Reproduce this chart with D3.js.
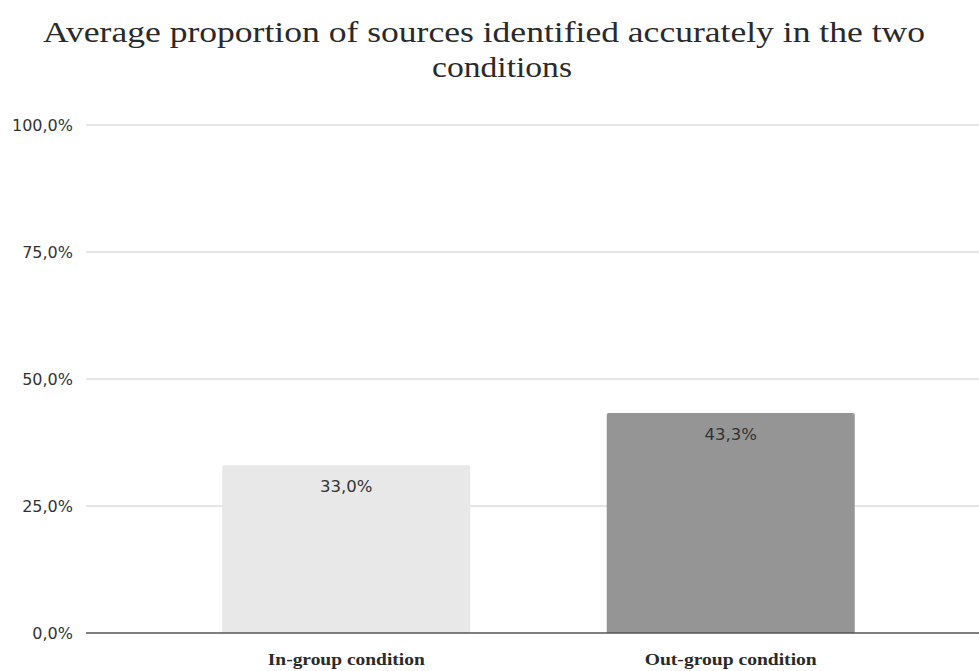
<!DOCTYPE html>
<html>
<head>
<meta charset="utf-8">
<script src="https://cdn.jsdelivr.net/npm/d3@7"></script>
<style>
  body { margin: 0; background: #fff; }
</style>
</head>
<body>
<div id="viz"></div>
<script>
const categories = ["In-group condition", "Out-group condition"];
const values = [0.330, 0.433];
const barColors = ["#e8e8e8", "#959595"];
const yTicks = [0, 0.25, 0.5, 0.75, 1];
const titleLines = ["Average proportion of sources identified accurately in the two", "conditions"];

const W = 979, H = 671;
const fmt = v => d3.format(".1%")(v).replace(".", ",");

const svg = d3.select("#viz").append("svg")
  .attr("width", W)
  .attr("height", H)
  .style("font-family", "'Liberation Serif', serif");

const y = d3.scaleLinear().domain([0, 1]).range([633, 125]);
const x = d3.scaleBand().domain(categories).range([154, 923]).paddingInner(0.355).paddingOuter(0.1775);

// title (the original face is wider than what we have, so stretch it)
const titleWidths = [882, 140];
const titleX = [484, 502];
const titleY = [42, 77];
svg.append("g").selectAll("text")
  .data(titleLines)
  .enter().append("text")
  .attr("x", (d, i) => titleX[i])
  .attr("y", (d, i) => titleY[i])
  .attr("text-anchor", "middle")
  .attr("font-size", 30)
  .attr("fill", "#2a2a2a")
  .attr("textLength", (d, i) => titleWidths[i])
  .attr("lengthAdjust", "spacingAndGlyphs")
  .text(d => d);

// gridlines
svg.append("g").selectAll("line")
  .data(yTicks.filter(d => d > 0))
  .enter().append("line")
  .attr("x1", 86).attr("x2", W)
  .attr("y1", d => y(d)).attr("y2", d => y(d))
  .attr("stroke", "#cccccc")
  .attr("stroke-width", 1);

// y tick labels
svg.append("g").selectAll("text")
  .data(yTicks)
  .enter().append("text")
  .attr("x", 73)
  .attr("y", d => y(d) + 6)
  .attr("text-anchor", "end")
  .style("font-family", "'DejaVu Sans', sans-serif")
  .attr("font-size", 16)
  .attr("fill", "#333")
  .text(fmt);

// bars
const r = 2;
svg.append("g").selectAll("path")
  .data(categories)
  .enter().append("path")
  .attr("d", (d, i) => {
    const x0 = x(d), x1 = x(d) + x.bandwidth(), yt = y(values[i]), yb = y(0);
    return `M${x0},${yb}V${yt + r}Q${x0},${yt} ${x0 + r},${yt}H${x1 - r}Q${x1},${yt} ${x1},${yt + r}V${yb}Z`;
  })
  .attr("fill", (d, i) => barColors[i]);

// bar value labels
svg.append("g").selectAll("text")
  .data(categories)
  .enter().append("text")
  .attr("x", d => x(d) + x.bandwidth() / 2)
  .attr("y", (d, i) => y(values[i]) + 27)
  .attr("text-anchor", "middle")
  .style("font-family", "'DejaVu Sans', sans-serif")
  .attr("font-size", 16.5)
  .attr("fill", "#333")
  .text((d, i) => fmt(values[i]));

// baseline
svg.append("line")
  .attr("x1", 86).attr("x2", W)
  .attr("y1", y(0)).attr("y2", y(0))
  .attr("stroke", "#555")
  .attr("stroke-width", 1.3);

// category labels
const catWidths = [157, 172];
svg.append("g").selectAll("text")
  .data(categories)
  .enter().append("text")
  .attr("x", d => x(d) + x.bandwidth() / 2)
  .attr("y", 665)
  .attr("text-anchor", "middle")
  .attr("font-size", 17)
  .attr("font-weight", 600)
  .attr("fill", "#2a2a2a")
  .attr("textLength", (d, i) => catWidths[i])
  .attr("lengthAdjust", "spacingAndGlyphs")
  .text(d => d);
</script>
</body>
</html>
